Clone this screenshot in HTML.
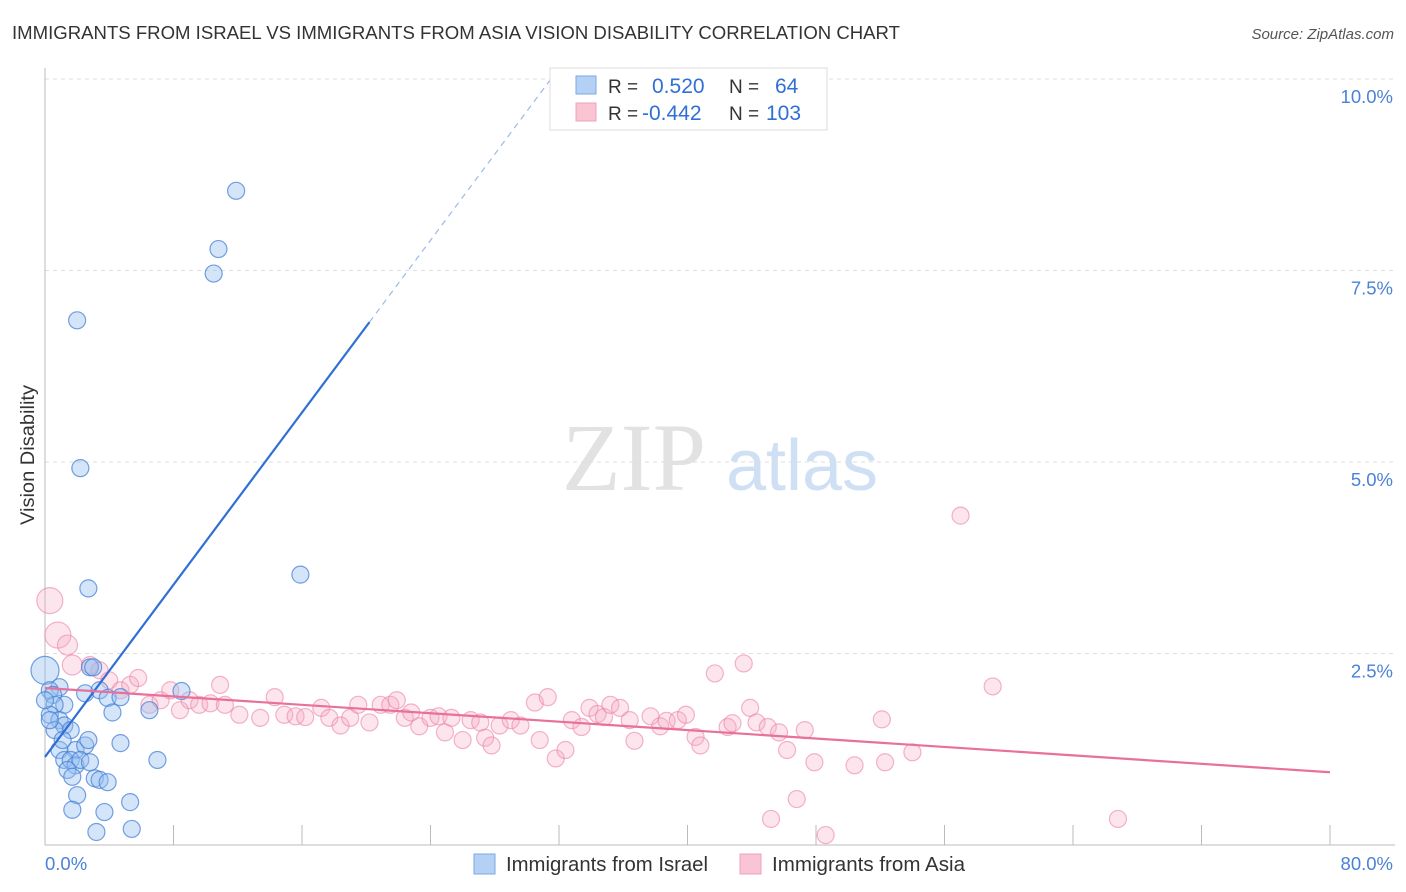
<!DOCTYPE html>
<html><head><meta charset="utf-8"><style>
body{margin:0;background:#fff;font-family:"Liberation Sans",sans-serif;}
svg{display:block}
</style></head><body>
<svg id="chart" width="1406" height="892">
<text x="12" y="39" font-size="18.5" fill="#333" textLength="888" lengthAdjust="spacingAndGlyphs">IMMIGRANTS FROM ISRAEL VS IMMIGRANTS FROM ASIA VISION DISABILITY CORRELATION CHART</text>
<text x="1394" y="39" font-size="15" fill="#555" font-style="italic" text-anchor="end">Source: ZipAtlas.com</text>
<text x="0" y="0" transform="translate(34,455) rotate(-90)" font-size="19" fill="#333" text-anchor="middle" textLength="140" lengthAdjust="spacingAndGlyphs">Vision Disability</text>
<g>
<text x="634" y="490" font-family="Liberation Serif,serif" font-size="96" fill="#e2e2e2" text-anchor="middle">ZIP</text>
<text x="802" y="490" font-size="72" fill="#cfe0f4" text-anchor="middle">atlas</text>
</g>
<g id="grid"></g><g id="axes"></g><g id="marks"></g>
<g>
<rect x="550" y="68" width="277" height="62" fill="#fff" stroke="#ddd"/>
<rect x="576" y="76" width="20" height="18" fill="#b4d0f4" stroke="#7aa9e6"/>
<rect x="576" y="103" width="20" height="18" fill="#f9c4d4" stroke="#f0a0bc"/>
<text x="608" y="93" font-size="19" fill="#333">R =</text>
<text x="652" y="93" font-size="21" fill="#2f6fd6">0.520</text>
<text x="729" y="93" font-size="19" fill="#333">N =</text>
<text x="775" y="93" font-size="21" fill="#2f6fd6">64</text>
<text x="608" y="120" font-size="19" fill="#333">R =</text>
<text x="642" y="120" font-size="21" fill="#2f6fd6">-0.442</text>
<text x="729" y="120" font-size="19" fill="#333">N =</text>
<text x="766" y="120" font-size="21" fill="#2f6fd6">103</text>
</g>
<g>
<rect x="474" y="854" width="21" height="20" fill="#b4d0f4" stroke="#7aa9e6"/>
<text x="506" y="871" font-size="20" fill="#333" textLength="202" lengthAdjust="spacingAndGlyphs">Immigrants from Israel</text>
<rect x="740" y="854" width="21" height="20" fill="#f9c4d4" stroke="#f0a0bc"/>
<text x="772" y="871" font-size="20" fill="#333" textLength="193" lengthAdjust="spacingAndGlyphs">Immigrants from Asia</text>
</g>
</svg>
<script>
const yTicks=[2.5,5.0,7.5,10.0];
const yTickLabels=["2.5%","5.0%","7.5%","10.0%"];
const xTickVals=[0,8,16,24,32,40,48,56,64,72,80];
const israelX=[11.9,10.8,10.5,2.0,2.2,15.9,2.7,0,2.8,3.0,8.5,0.9,0.3,0.5,2.5,3.4,3.9,4.7,4.2,6.5,1.2,0.6,0.3,0.9,1.2,1.6,0.6,1.9,2.5,0.9,1.2,1.6,1.9,2.2,2.8,1.4,1.7,3.1,3.4,3.9,4.7,7.0,2.0,5.3,1.7,3.7,3.2,5.4,0,0.3,1.1,2.7];
const israelY=[8.54,7.78,7.46,6.85,4.92,3.53,3.35,2.28,2.32,2.32,2.01,2.06,2.02,1.96,1.98,2.02,1.92,1.93,1.73,1.76,1.83,1.83,1.70,1.63,1.56,1.50,1.50,1.24,1.30,1.24,1.11,1.11,1.04,1.11,1.08,0.98,0.89,0.87,0.85,0.82,1.33,1.11,0.65,0.56,0.46,0.43,0.17,0.21,1.89,1.63,1.37,1.37];
const asiaX=[0.3,0.8,1.4,1.7,2.8,3.4,4.0,4.7,5.3,5.8,6.5,7.2,7.8,8.4,9.0,9.6,10.3,10.9,11.2,12.1,13.4,14.3,14.9,15.6,16.2,17.2,17.7,18.4,19.0,19.5,20.2,20.9,21.5,21.9,22.4,22.8,23.3,24.0,24.5,24.9,25.3,26.0,26.5,27.1,27.4,27.8,28.3,29.0,29.6,30.5,30.8,31.3,31.8,32.4,32.8,33.4,33.9,34.4,34.8,35.2,35.8,36.4,36.7,37.7,38.3,38.7,39.4,39.9,40.5,40.8,41.7,42.5,42.8,43.5,43.9,44.3,45.0,45.7,46.2,46.8,47.3,47.9,48.6,50.4,52.1,52.3,54.0,57.0,59.0,66.8,45.2];
const asiaY=[3.19,2.74,2.61,2.35,2.35,2.28,2.15,2.02,2.09,2.18,1.83,1.89,2.02,1.76,1.89,1.83,1.85,2.09,1.83,1.70,1.66,1.93,1.70,1.68,1.67,1.79,1.66,1.56,1.66,1.83,1.60,1.83,1.83,1.89,1.66,1.73,1.55,1.66,1.68,1.47,1.66,1.37,1.63,1.60,1.40,1.30,1.56,1.63,1.56,1.86,1.37,1.93,1.13,1.24,1.63,1.54,1.79,1.71,1.67,1.83,1.79,1.63,1.36,1.68,1.55,1.62,1.63,1.70,1.41,1.30,2.24,1.54,1.59,2.37,1.79,1.60,1.54,1.47,1.24,0.60,1.50,1.08,0.13,1.04,1.64,1.08,1.21,4.30,2.07,0.34,0.34];
const israelTrend=[1.15,0.281];
const asiaTrend=[2.05,-0.01375];
const X0=45,X1=1330,Y0=845,Ymax=79;
const sx=v=>X0+(v/80)*(X1-X0);
const sy=v=>Y0-(v/10)*(Y0-Ymax);
const NS="http://www.w3.org/2000/svg";
function mk(parent,tag,attrs){const e=document.createElementNS(NS,tag);for(const k in attrs)e.setAttribute(k,attrs[k]);document.getElementById(parent).appendChild(e);return e;}
yTicks.forEach((t,i)=>{
 const g=mk('grid','line',{x1:X0,x2:1395,y1:sy(t),y2:sy(t),stroke:'#ddd','stroke-dasharray':'4,4'});
 
 
 const l=mk('axes','text',{x:1393,y:sy(t)+24,'font-size':18.5,fill:'#4a82d8','text-anchor':'end'});
 l.textContent=yTickLabels[i];
 
 
});
const ax=mk('axes','line',{x1:X0,x2:X0,y1:68,y2:Y0,stroke:'#bbb'});


const bx=mk('axes','line',{x1:X0,x2:1395,y1:Y0,y2:Y0,stroke:'#bbb'});


xTickVals.forEach(t=>{
 const tk=mk('axes','line',{x1:sx(t),x2:sx(t),y1:Y0,y2:Y0-20,stroke:'#bbb'});
 
 
});
const xl0=mk('axes','text',{x:45,y:870,'font-size':18.5,fill:'#4a82d8'});xl0.textContent='0.0%';


const xl1=mk('axes','text',{x:1393,y:870,'font-size':18.5,fill:'#4a82d8','text-anchor':'end'});xl1.textContent='80.0%';


asiaX.forEach((x,i)=>{
 const c=mk('marks','circle',{cx:sx(x),cy:sy(asiaY[i]),r:i<2?13:(i<4?10:8.5),fill:'rgba(246,170,195,0.3)',stroke:'rgba(236,130,165,0.6)','stroke-width':1.2});
 
 
});
israelX.forEach((x,i)=>{
 const c=mk('marks','circle',{cx:sx(x),cy:sy(israelY[i]),r:i===7?14:8.5,fill:'rgba(150,190,240,0.4)',stroke:'rgba(70,130,215,0.75)','stroke-width':1.2});
 
 
});
const bxEnd=20.2,bxDash=(10-israelTrend[0])/israelTrend[1];
const t1=mk('marks','line',{x1:sx(0),y1:sy(israelTrend[0]),x2:sx(bxEnd),y2:sy(israelTrend[0]+israelTrend[1]*bxEnd),stroke:'#2f6fd6','stroke-width':2.2});


const t2=mk('marks','line',{x1:sx(bxEnd),y1:sy(israelTrend[0]+israelTrend[1]*bxEnd),x2:sx(bxDash),y2:sy(10),stroke:'#9bbbe8','stroke-width':1.2,'stroke-dasharray':'6,5'});


const t3=mk('marks','line',{x1:sx(0),y1:sy(asiaTrend[0]),x2:sx(80),y2:sy(asiaTrend[0]+asiaTrend[1]*80),stroke:'#e8709a','stroke-width':2.2});


</script>
</body></html>
